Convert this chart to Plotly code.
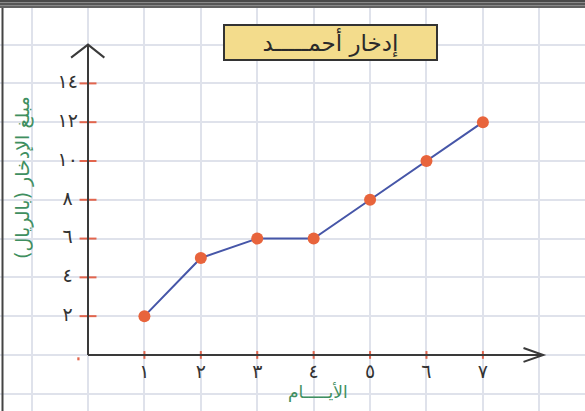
import plotly.graph_objects as go

# Savings of Ahmed over seven days (riyals)
days = [1, 2, 3, 4, 5, 6, 7]
savings = [2, 5, 6, 6, 8, 10, 12]

x_tick_vals = [1, 2, 3, 4, 5, 6, 7]
x_tick_text = ["١", "٢", "٣", "٤", "٥", "٦", "٧"]
y_tick_vals = [2, 4, 6, 8, 10, 12, 14]
y_tick_text = ["٢", "٤", "٦", "٨", "١٠", "١٢", "١٤"]

title_text = "إدخار أحمـــــد"
y_title = "مبلغ الإدخار (بالريال)"
x_title = "الأيـــــام"

W, H = 585, 411
X_RANGE = [-1.56, 8.81]
Y_RANGE = [-2.89, 18.3]

AXIS_COLOR = "#3a3a3a"
TICK_RED = "#e2654d"
GREEN = "#3f8f60"
FONT = "DejaVu Sans"

fig = go.Figure()

# data line with dots
fig.add_trace(go.Scatter(
    x=days, y=savings, mode="lines+markers",
    line=dict(color="#4656a8", width=2),
    marker=dict(color="#e8643c", size=12, line=dict(width=0)),
    hoverinfo="skip", showlegend=False,
))

# tick labels
fig.add_trace(go.Scatter(
    x=[-0.36] * len(y_tick_vals), y=y_tick_vals, mode="text",
    text=y_tick_text, textfont=dict(family=FONT, size=19, color="#333"),
    hoverinfo="skip", showlegend=False,
))
fig.add_trace(go.Scatter(
    x=x_tick_vals, y=[-0.95] * len(x_tick_vals), mode="text",
    text=x_tick_text, textfont=dict(family=FONT, size=19, color="#333"),
    hoverinfo="skip", showlegend=False,
))

shapes = []
# red tick marks
for v in y_tick_vals:
    shapes.append(dict(type="line", xref="x", yref="y", x0=-0.15, x1=0.15, y0=v, y1=v,
                       line=dict(color=TICK_RED, width=2)))
for v in x_tick_vals:
    shapes.append(dict(type="line", xref="x", yref="y", x0=v, x1=v, y0=-0.2, y1=0.2,
                       line=dict(color=TICK_RED, width=2)))
shapes.append(dict(type="line", xref="x", yref="y", x0=-0.19, x1=-0.15, y0=-0.2, y1=-0.2,
                   line=dict(color=TICK_RED, width=3)))

# axes with open arrowheads
shapes.append(dict(type="line", xref="x", yref="y", x0=0, x1=0, y0=0, y1=16.0,
                   line=dict(color=AXIS_COLOR, width=2)))
shapes.append(dict(type="line", xref="x", yref="y", x0=0, x1=8.07, y0=0, y1=0,
                   line=dict(color=AXIS_COLOR, width=2)))
shapes.append(dict(type="path", xref="x", yref="y",
                   path="M -0.30,15.33 L 0,16.0 L 0.29,15.33",
                   line=dict(color=AXIS_COLOR, width=2)))
shapes.append(dict(type="path", xref="x", yref="y",
                   path="M 7.72,0.36 L 8.07,0 L 7.72,-0.36",
                   line=dict(color=AXIS_COLOR, width=2)))

# page border
shapes.append(dict(type="rect", xref="paper", yref="paper", x0=0, x1=1, y0=1 - 8 / H, y1=1,
                   fillcolor="#8a8a8a", line=dict(width=0), layer="above"))
for py, c in [(1, "#333"), (4, "#444"), (7, "#555")]:
    shapes.append(dict(type="line", xref="paper", yref="paper", x0=0, x1=1,
                       y0=1 - py / H, y1=1 - py / H, line=dict(color=c, width=1.5), layer="above"))
shapes.append(dict(type="line", xref="paper", yref="paper", x0=2.5 / W, x1=2.5 / W,
                   y0=0, y1=1 - 8 / H, line=dict(color="#444", width=2), layer="above"))

annotations = [
    dict(text=title_text, xref="paper", yref="paper", x=330 / W, y=1 - 42.5 / H,
         showarrow=False, font=dict(family=FONT, size=23, color="#2a2a2a"),
         bgcolor="#f3dc8c", bordercolor="#333", borderwidth=2, width=209, height=31,
         xanchor="center", yanchor="middle"),
    dict(text=y_title, xref="paper", yref="paper", x=22 / W, y=1 - 178 / H,
         showarrow=False, textangle=-90, font=dict(family=FONT, size=19, color=GREEN),
         xanchor="center", yanchor="middle"),
    dict(text=x_title, xref="paper", yref="paper", x=318 / W, y=1 - 392 / H,
         showarrow=False, font=dict(family=FONT, size=17, color=GREEN),
         xanchor="center", yanchor="middle"),
]

grid_color = "#dfe2eb"
fig.update_layout(
    width=W, height=H,
    margin=dict(l=0, r=0, t=0, b=0),
    paper_bgcolor="white", plot_bgcolor="white",
    xaxis=dict(range=X_RANGE, tick0=0, dtick=1, showgrid=True, gridcolor=grid_color,
               gridwidth=1.5, zeroline=False, showticklabels=False, ticks="",
               showline=False, fixedrange=True),
    yaxis=dict(range=Y_RANGE, tick0=0, dtick=2, showgrid=True, gridcolor=grid_color,
               gridwidth=1.5, zeroline=False, showticklabels=False, ticks="",
               showline=False, fixedrange=True),
    shapes=shapes,
    annotations=annotations,
    showlegend=False,
)

fig.write_html("out.html")
